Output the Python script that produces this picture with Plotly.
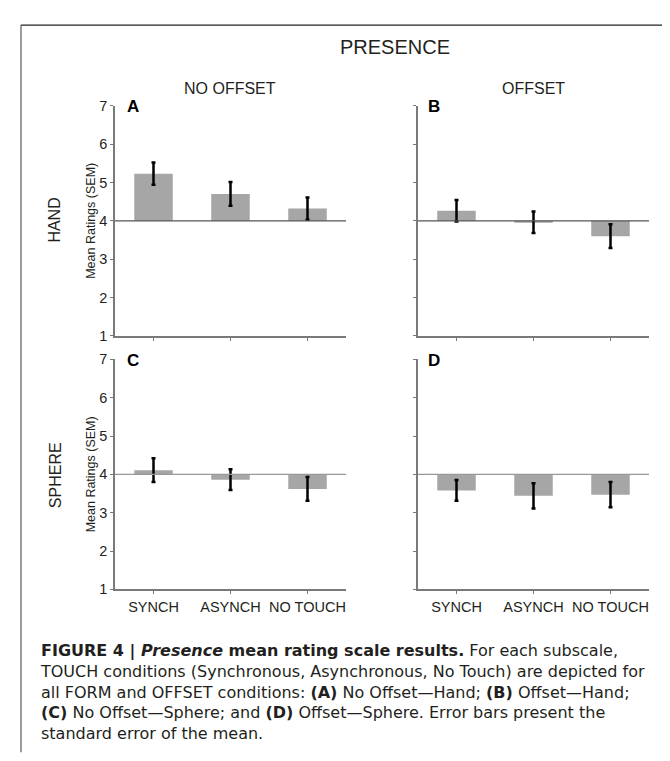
import plotly.graph_objects as go

W, H = 670, 761

categories = ["SYNCH", "ASYNCH", "NO TOUCH"]
y_ticks = [1, 2, 3, 4, 5, 6, 7]
baseline = 4

# Panel means and SEMs (A: No Offset-Hand, B: Offset-Hand, C: No Offset-Sphere, D: Offset-Sphere)
mean_A = [5.23, 4.70, 4.32]
sem_A = [0.29, 0.31, 0.29]
mean_B = [4.26, 3.96, 3.60]
sem_B = [0.28, 0.28, 0.31]
mean_C = [4.11, 3.86, 3.62]
sem_C = [0.31, 0.27, 0.31]
mean_D = [3.58, 3.44, 3.47]
sem_D = [0.27, 0.33, 0.33]

panel_letters = ["A", "B", "C", "D"]
column_titles = ["NO OFFSET", "OFFSET"]
row_titles = ["HAND", "SPHERE"]
super_title = "PRESENCE"
y_title = "Mean Ratings (SEM)"

caption = ("<b>FIGURE 4 | <i>Presence</i> mean rating scale results.</b> For each subscale,<br>"
           "TOUCH conditions (Synchronous, Asynchronous, No Touch) are depicted for<br>"
           "all FORM and OFFSET conditions: <b>(A)</b> No Offset\u2014Hand; <b>(B)</b> Offset\u2014Hand;<br>"
           "<b>(C)</b> No Offset\u2014Sphere; and <b>(D)</b> Offset\u2014Sphere. Error bars present the<br>"
           "standard error of the mean.")


def px(x):
    return x / W


def py(y):
    return 1 - y / H


FONT = "Liberation Sans, Arial, Helvetica, sans-serif"
TXT = "#231f20"
BAR = "#a6a6a6"
AXC = "#7a7a7a"

panels = [
    dict(means=mean_A, sems=sem_A, xd=(107, 338), yd=(91.7, 326.7), letter=(117, 92), ylab=True, xlab=False, ref="#555555"),
    dict(means=mean_B, sems=sem_B, xd=(410, 641), yd=(91.7, 326.7), letter=(418, 92), ylab=False, xlab=False, ref="#555555"),
    dict(means=mean_C, sems=sem_C, xd=(107, 338), yd=(350.7, 585.7), letter=(117, 352), ylab=True, xlab=True, ref="#999999"),
    dict(means=mean_D, sems=sem_D, xd=(410, 641), yd=(350.7, 585.7), letter=(418, 352), ylab=False, xlab=True, ref="#999999"),
]

fig = go.Figure()
layout = dict(
    width=W, height=H, autosize=False,
    margin=dict(l=0, r=0, t=0, b=0),
    paper_bgcolor="white", plot_bgcolor="white",
    showlegend=False,
    font=dict(family=FONT, color=TXT),
)
shapes = []
annotations = []

xs = list(range(len(categories)))
for i, p in enumerate(panels):
    n = "" if i == 0 else str(i + 1)
    xa, ya = "x" + n, "y" + n
    fig.add_trace(go.Bar(
        x=xs, y=[m - baseline for m in p["means"]], base=baseline, width=0.5,
        marker=dict(color=BAR, line=dict(width=0)),
        error_y=dict(type="data", array=p["sems"], symmetric=True, color="black", thickness=2.5, width=2),
        xaxis=xa, yaxis=ya, hoverinfo="skip",
    ))
    layout["xaxis" + n] = dict(
        domain=[px(p["xd"][0]), px(p["xd"][1])], anchor=ya, range=[-0.5, 2.5],
        tickmode="array", tickvals=xs, ticktext=categories, showticklabels=p["xlab"],
        ticks="outside", ticklen=3, tickcolor=AXC, tickwidth=1,
        showline=True, linecolor=AXC, linewidth=1.5, showgrid=False, zeroline=False,
        tickfont=dict(size=14.5, family=FONT, color=TXT),
    )
    layout["yaxis" + n] = dict(
        domain=[py(p["yd"][1]), py(p["yd"][0])], anchor=xa, range=[1, 7],
        tickmode="array", tickvals=y_ticks, showticklabels=p["ylab"],
        ticks="outside", ticklen=3, tickcolor=AXC, tickwidth=1,
        showline=True, linecolor=AXC, linewidth=1.5, showgrid=False, zeroline=False,
        tickfont=dict(size=14.5, family=FONT, color=TXT),
    )
    shapes.append(dict(type="line", xref=xa + " domain", yref=ya, x0=0, x1=1, y0=baseline, y1=baseline,
                       line=dict(color=p["ref"], width=1.3), layer="above"))
    annotations.append(dict(text="<b>" + panel_letters[i] + "</b>", xref="paper", yref="paper",
                            x=px(p["letter"][0]), y=py(p["letter"][1]), xanchor="left", yanchor="middle",
                            showarrow=False, font=dict(size=17, family=FONT, color="black")))
    if p["ylab"]:
        annotations.append(dict(text=y_title, xref="paper", yref="paper",
                                x=px(83), y=py((p["yd"][0] + p["yd"][1]) / 2), xanchor="center", yanchor="middle",
                                textangle=-90, showarrow=False, font=dict(size=12.5, family=FONT, color=TXT)))

# column / row / super titles
annotations.append(dict(text=super_title, xref="paper", yref="paper", x=px(387), y=py(32),
                        xanchor="center", yanchor="middle", showarrow=False, font=dict(size=20, family=FONT, color=TXT)))
for t, cx in zip(column_titles, [222, 525]):
    annotations.append(dict(text=t, xref="paper", yref="paper", x=px(cx), y=py(74),
                            xanchor="center", yanchor="middle", showarrow=False, font=dict(size=16, family=FONT, color=TXT)))
for t, cy in zip(row_titles, [209, 469]):
    annotations.append(dict(text=t, xref="paper", yref="paper", x=px(47), y=py(cy), textangle=-90,
                            xanchor="center", yanchor="middle", showarrow=False, font=dict(size=16, family=FONT, color=TXT)))

# caption
annotations.append(dict(text=caption, xref="paper", yref="paper", x=px(30), y=py(691),
                        xanchor="left", yanchor="middle", align="left", showarrow=False,
                        font=dict(size=16, family="DejaVu Sans, sans-serif", color=TXT)))

# frame
shapes.append(dict(type="line", xref="paper", yref="paper", x0=px(13), x1=px(665), y0=py(9.3), y1=py(9.3),
                   line=dict(color="#222222", width=1.3)))
shapes.append(dict(type="line", xref="paper", yref="paper", x0=px(13), x1=px(13), y0=py(9.3), y1=py(752),
                   line=dict(color="#666666", width=1.3)))
shapes.append(dict(type="line", xref="paper", yref="paper", x0=px(665), x1=px(665), y0=py(9.3), y1=py(752),
                   line=dict(color="#777777", width=2)))

layout["shapes"] = shapes
layout["annotations"] = annotations
fig.update_layout(**layout)

fig.write_html("out.html")
